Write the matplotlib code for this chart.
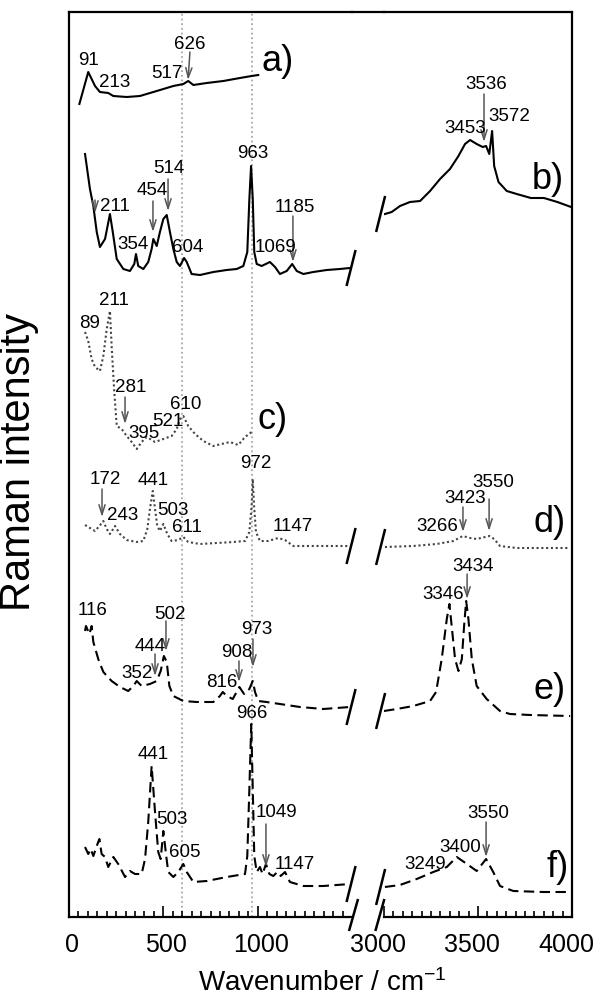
import matplotlib
matplotlib.use("Agg")
import matplotlib.pyplot as plt
from matplotlib.lines import Line2D
from matplotlib.ticker import MultipleLocator, FixedLocator
from matplotlib.transforms import ScaledTranslation

plt.rcParams['font.family'] = ['Liberation Sans', 'DejaVu Sans']
plt.rcParams['mathtext.default'] = 'regular'

# ---------------- data (wavenumber / cm-1, offset Raman intensity a.u.) ----------------
a_wn = [55, 102, 138, 164, 208, 235, 306, 376, 465, 553, 606, 632, 659, 730, 818, 906, 968, 1003]
a_I = [813, 845, 831, 825, 824, 821, 820, 821, 826, 831, 833, 836, 832, 834, 836, 839, 841, 842]

b_left_wn = [85, 111, 129, 147, 164, 191, 217, 232, 253, 288, 323, 346, 355, 367, 394, 420, 438, 447,
             465, 482, 500, 518, 535, 553, 571, 588, 610, 624, 650, 694, 765, 836, 889, 924, 945, 956,
             965, 974, 982, 995, 1021, 1065, 1092, 1118, 1154, 1183, 1207, 1242, 1295, 1366, 1436, 1489]
b_left_I = [763, 728, 711, 685, 670, 678, 703, 685, 658, 648, 646, 653, 663, 651, 648, 655, 668, 678,
            671, 685, 698, 702, 685, 668, 655, 651, 659, 655, 643, 642, 645, 647, 648, 651, 665, 718,
            751, 718, 665, 653, 651, 655, 650, 643, 646, 653, 646, 643, 645, 647, 648, 649]
b_right_wn = [3005, 3041, 3085, 3138, 3192, 3245, 3298, 3351, 3396, 3431, 3458, 3493, 3525, 3543,
              3560, 3575, 3586, 3609, 3653, 3706, 3781, 3851, 3922, 3995]
b_right_I = [703, 705, 711, 715, 716, 726, 738, 748, 761, 773, 777, 773, 770, 771,
             763, 786, 751, 735, 726, 723, 719, 719, 715, 710]

c_wn = [85, 102, 120, 138, 164, 182, 200, 217, 226, 239, 253, 279, 306, 332, 359, 385, 412, 456,
        500, 544, 571, 588, 606, 632, 668, 712, 765, 809, 853, 897, 933, 968]
c_I = [585, 576, 558, 550, 546, 561, 588, 606, 571, 528, 491, 488, 481, 475, 468, 475, 480, 475,
       478, 481, 488, 498, 501, 491, 483, 476, 471, 473, 475, 472, 480, 485]

d_left_wn = [85, 111, 138, 161, 182, 200, 217, 244, 270, 306, 359, 394, 415, 429, 444, 456, 468, 482,
             500, 521, 544, 579, 606, 632, 694, 783, 871, 933, 956, 968, 974, 981, 991, 1012, 1056,
             1109, 1145, 1189, 1277, 1401, 1481]
d_left_I = [392, 389, 386, 391, 396, 388, 383, 391, 383, 377, 375, 376, 388, 408, 426, 408, 391, 386,
            393, 383, 376, 377, 380, 375, 373, 374, 375, 376, 385, 411, 438, 411, 385, 376, 376,
            379, 377, 371, 371, 371, 371]
d_right_wn = [3005, 3156, 3280, 3369, 3419, 3458, 3493, 3560, 3586, 3617, 3706, 3851, 3984]
d_right_I = [370, 371, 373, 376, 381, 379, 378, 381, 378, 371, 369, 369, 369]

e_left_wn = [85, 90, 108, 120, 129, 155, 182, 226, 270, 314, 341, 359, 385, 429, 465, 486, 503, 518,
             532, 553, 606, 677, 765, 800, 815, 836, 868, 903, 928, 956, 974, 986, 1003, 1047, 1118,
             1224, 1348, 1489]
e_left_I = [286, 291, 283, 291, 275, 258, 245, 236, 230, 226, 231, 236, 231, 233, 236, 246, 261, 255,
            231, 221, 216, 215, 215, 221, 225, 221, 218, 230, 223, 228, 236, 225, 216, 215, 213,
            210, 208, 210]
e_right_wn = [3000, 3068, 3156, 3245, 3277, 3307, 3334, 3348, 3360, 3378, 3396, 3414, 3426, 3437,
              3449, 3467, 3493, 3546, 3617, 3670, 3777, 3990]
e_right_I = [206, 208, 211, 216, 225, 258, 298, 313, 291, 258, 246, 258, 291, 316,
             298, 258, 231, 218, 206, 203, 202, 201]

f_left_wn = [85, 102, 115, 129, 147, 161, 173, 191, 208, 235, 261, 297, 323, 350, 385, 403, 420, 438,
             456, 473, 486, 500, 514, 526, 553, 579, 606, 624, 659, 730, 836, 933, 945, 956, 966,
             974, 982, 995, 1012, 1026, 1044, 1062, 1083, 1104, 1122, 1145, 1171, 1242, 1348, 1489]
f_left_I = [70, 63, 68, 61, 71, 78, 63, 60, 50, 60, 53, 40, 46, 43, 43, 58, 95, 151,
            105, 65, 58, 86, 63, 45, 40, 45, 53, 45, 35, 36, 40, 43, 61, 128, 193,
            128, 61, 45, 50, 43, 53, 43, 41, 45, 41, 45, 35, 31, 31, 33]
f_right_wn = [3005, 3085, 3174, 3262, 3334, 3387, 3441, 3493, 3543, 3581, 3617, 3688, 3847, 3990]
f_right_I = [30, 32, 38, 45, 50, 60, 53, 46, 58, 45, 31, 26, 25, 25]

ref_lines = [600, 970]
left_ticks = [0, 500, 1000]
right_ticks = [3000, 3500, 4000]

# ---------------- figure layout ----------------
W, H = 596, 995
fig = plt.figure(figsize=(W / 100, H / 100), dpi=100)
L0, L1, R0, R1, T, B = 69, 352, 384, 572, 13, 918
axl = fig.add_axes([L0 / W, 1 - B / H, (L1 - L0) / W, (B - T) / H])
axr = fig.add_axes([R0 / W, 1 - B / H, (R1 - R0) / W, (B - T) / H])
axl.set_xlim(0, 1500)
axr.set_xlim(3000, 4000)
for ax in (axl, axr):
    ax.set_ylim(0, B - T)
    ax.set_yticks([])
    for s in ax.spines.values():
        s.set_linewidth(1.6)
    ax.tick_params(axis='x', which='both', direction='in', top=False, width=1.2,
                   labelsize=18, pad=11)
    ax.tick_params(axis='x', which='major', length=8)
    ax.tick_params(axis='x', which='minor', length=4.5)
    ax.patch.set_alpha(0)
axl.spines['right'].set_visible(False)
axr.spines['left'].set_visible(False)
axl.set_xticks(left_ticks)
axr.set_xticks(right_ticks)
axl.xaxis.set_minor_locator(FixedLocator([v for v in range(0, 1500, 50)]))
axr.xaxis.set_minor_locator(MultipleLocator(50))
for lbl in axl.get_xticklabels():
    lbl.set_transform(lbl.get_transform() + ScaledTranslation(3 / 100, 0, fig.dpi_scale_trans))
for lbl in axr.get_xticklabels():
    lbl.set_transform(lbl.get_transform() + ScaledTranslation(-6 / 100, 0, fig.dpi_scale_trans))

# continuous top frame across the gap
fig.add_artist(Line2D([L1 / W, R0 / W], [1 - T / H, 1 - T / H], color='k', lw=1.6))

for x in ref_lines:
    axl.axvline(x, color='#a8a8a8', lw=1.3, ls=(0, (1, 1.6)), zorder=0)

solid = dict(color='k', lw=1.5, ls='-')
dotted = dict(color='#444444', lw=1.5, ls=(0, (1, 1.3)))
dashed = dict(color='k', lw=1.5, ls=(0, (5, 2.6)))

axl.plot(a_wn, a_I, **solid)
axl.plot(b_left_wn, b_left_I, **solid)
axr.plot(b_right_wn, b_right_I, **solid)
axl.plot(c_wn, c_I, **dotted)
axl.plot(d_left_wn, d_left_I, **dotted)
axr.plot(d_right_wn, d_right_I, **dotted)
axl.plot(e_left_wn, e_left_I, **dashed)
axr.plot(e_right_wn, e_right_I, **dashed)
axl.plot(f_left_wn, f_left_I, **dashed)
axr.plot(f_right_wn, f_right_I, **dashed)


def brk(ax, x, y, h=36, dx=24):
    ax.plot([x - dx, x + dx], [y - h / 2, y + h / 2], color='k', lw=1.8, clip_on=False,
            solid_capstyle='butt')


for yl, yr in [(b_left_I[-1], b_right_I[0]), (d_left_I[-1], d_right_I[0]),
               (e_left_I[-1], e_right_I[0]), (f_left_I[-1], f_right_I[0])]:
    brk(axl, 1495, yl)
    brk(axr, 2982, yr)
brk(axl, 1508, 2, h=32)
brk(axr, 2978, 2, h=32)

# ---------------- annotations ----------------
FS = 13.5
left_labels = [
    ("91", 106, 857), ("213", 244, 835), ("517", 519, 844), ("626", 641, 873),
    ("963", 975, 764), ("514", 530, 749), ("454", 440, 727), ("211", 244, 711),
    ("354", 339, 673), ("604", 631, 670), ("1069", 1092, 670), ("1185", 1198, 710),
    ("211", 239, 617), ("89", 111, 594), ("281", 329, 530), ("395", 398, 484),
    ("521", 525, 496), ("610", 620, 513),
    ("972", 991, 454), ("172", 191, 438), ("441", 445, 437), ("243", 286, 402),
    ("503", 551, 407), ("611", 625, 390), ("1147", 1187, 391),
    ("116", 127, 307), ("502", 535, 303), ("444", 429, 271), ("352", 360, 244),
    ("973", 996, 288), ("908", 890, 265), ("816", 811, 235),
    ("966", 970, 204), ("441", 445, 163), ("503", 546, 98), ("605", 615, 65),
    ("1049", 1102, 105), ("1147", 1198, 53),
]
right_labels = [
    ("3453", 3431, 789), ("3536", 3543, 833), ("3572", 3665, 801),
    ("3550", 3580, 435), ("3423", 3431, 419), ("3266", 3282, 391),
    ("3434", 3473, 351), ("3346", 3314, 323),
    ("3550", 3553, 104), ("3400", 3404, 70), ("3249", 3218, 53),
]
left_arrows = [((641, 865), (631, 837)), ((525, 738), (525, 706)), ((445, 716), (445, 685)),
               ((138, 717), (138, 704)), ((1187, 701), (1187, 655)), ((297, 520), (297, 493)),
               ((175, 428), (175, 400)), ((514, 296), (514, 266)), ((456, 263), (456, 241)),
               ((975, 278), (975, 250)), ((901, 256), (901, 235)), ((1044, 93), (1044, 50))]
right_arrows = [((3532, 823), (3532, 775)), ((3420, 410), (3420, 385)), ((3559, 418), (3559, 386)),
                ((3442, 343), (3442, 318)), ((3543, 95), (3543, 60))]
panel_left = [("a)", 1108, 856), ("c)", 1081, 498)]
panel_right = [("b)", 3872, 738), ("d)", 3883, 395), ("e)", 3883, 228), ("f)", 3926, 50)]

for ax, labs in ((axl, left_labels), (axr, right_labels)):
    for t, x, y in labs:
        ax.text(x, y, t, fontsize=FS, ha='center', va='center', zorder=5)
for ax, arr in ((axl, left_arrows), (axr, right_arrows)):
    for (x0, y0), (x1, y1) in arr:
        ax.annotate('', xy=(x1, y1), xytext=(x0, y0),
                    arrowprops=dict(arrowstyle='->, head_length=0.7, head_width=0.22',
                                    color='#555555', lw=1.1, shrinkA=0, shrinkB=0))
for ax, labs in ((axl, panel_left), (axr, panel_right)):
    for t, x, y in labs:
        ax.text(x, y, t, fontsize=26, ha='center', va='center', clip_on=False)

fig.text(322 / W, 1 - 983 / H, 'Wavenumber / cm$^{-1}$', fontsize=20, ha='center', va='center')
fig.text(19 / W, 1 - 462 / H, 'Raman intensity', fontsize=30, ha='center', va='center',
         rotation=90)

fig.savefig('out.png', dpi=100)
